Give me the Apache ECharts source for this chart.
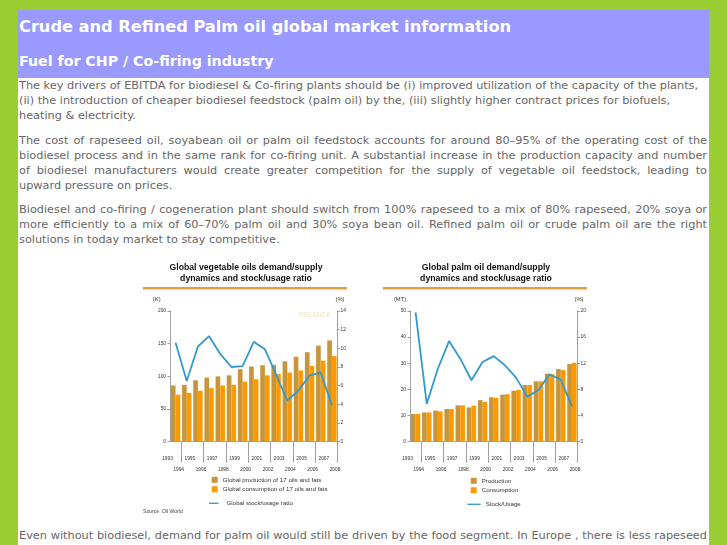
<!DOCTYPE html>
<html><head><meta charset="utf-8">
<script src="https://cdn.jsdelivr.net/npm/echarts/dist/echarts.min.js"></script>
<style>
html,body{margin:0;padding:0;}
body{width:727px;height:545px;overflow:hidden;background:#9acd32;position:relative;font-family:"DejaVu Sans",sans-serif;}
#page{position:absolute;left:18px;top:10px;width:691px;height:540px;background:#fff;}
#hdr{position:absolute;left:0;top:0;width:691px;height:68px;background:#9999ff;}
.h1{position:absolute;left:1px;top:7px;color:#fff;font-weight:bold;font-size:16.2px;line-height:20px;white-space:nowrap;}
.h2{position:absolute;left:1px;top:43px;color:#fff;font-weight:bold;font-size:14.2px;line-height:16px;white-space:nowrap;}
.p{position:absolute;left:1px;width:688px;color:#666;font-size:11.3px;line-height:15px;}
.p div{white-space:nowrap;}
.p div.j{text-align:justify;text-align-last:justify;}
.chart{position:absolute;width:220px;height:262px;top:258px;}
</style>
</head>
<body>
<div id="page">
  <div id="hdr">
    <div class="h1">Crude and Refined Palm oil global market information</div>
    <div class="h2">Fuel for CHP / Co-firing industry</div>
  </div>
  <div class="p" style="top:67.5px">
    <div>The key drivers of EBITDA for biodiesel &amp; Co-firing plants should be (i) improved utilization of the capacity of the plants,</div>
    <div>(ii) the introduction of cheaper biodiesel feedstock (palm oil) by the, (iii) slightly higher contract prices for biofuels,</div>
    <div>heating &amp; electricity.</div>
  </div>
  <div class="p" style="top:122.5px">
    <div class="j">The cost of rapeseed oil, soyabean oil or palm oil feedstock accounts for around 80–95% of the operating cost of the</div>
    <div class="j">biodiesel process and in the same rank for co-firing unit. A substantial increase in the production capacity and number</div>
    <div class="j">of biodiesel manufacturers would create greater competition for the supply of vegetable oil feedstock, leading to</div>
    <div>upward pressure on prices.</div>
  </div>
  <div class="p" style="top:191.5px">
    <div class="j">Biodiesel and co-firing / cogeneration plant should switch from 100% rapeseed to a mix of 80% rapeseed, 20% soya or</div>
    <div class="j">more efficiently to a mix of 60–70% palm oil and 30% soya bean oil. Refined palm oil or crude palm oil are the right</div>
    <div>solutions in today market to stay competitive.</div>
  </div>
  <div class="p" style="top:517.5px">
    <div class="j">Even without biodiesel, demand for palm oil would still be driven by the food segment. In Europe , there is less rapeseed</div>
    <div class="j">for food consumption as more and more rapeseed is used for biodiesel production. Palm oil appears to fill in the gap left</div>
  </div>
</div>
<div id="c1" class="chart" style="left:140px"></div>
<div id="c2" class="chart" style="left:380px"></div>
<script>
// ---- data ----
const tickYears = ['1993','1994','1995','1996','1997','1998','1999','2000','2001','2002','2003','2004','2005','2006','2007','2008'];
const periods = ['1993/94','1994/95','1995/96','1996/97','1997/98','1998/99','1999/00','2000/01','2001/02','2002/03','2003/04','2004/05','2005/06','2006/07','2007/08'];
const vegProduction = [86, 87, 94, 98, 100, 101.5, 111, 115, 117, 117.5, 123, 130, 137, 147, 155];
const vegConsumption = [72, 74.5, 78, 82, 86, 87, 92, 95.5, 101.5, 103.5, 106, 109, 116, 124, 131];
const vegStockRatio = [10.6, 6.5, 10.2, 11.3, 9.4, 8.0, 8.1, 10.7, 9.9, 7.2, 4.4, 5.5, 7.1, 7.4, 3.9];
const palmProduction = [10.6, 11.2, 11.9, 12.5, 13.9, 13.1, 15.9, 17.0, 18.0, 19.5, 21.7, 23.1, 26.0, 27.8, 29.7];
const palmConsumption = [10.6, 11.2, 11.6, 12.5, 13.9, 13.8, 15.2, 16.8, 18.2, 19.8, 21.7, 23.1, 25.8, 27.4, 30.2];
const palmStockRatio = [19.8, 5.8, 11.2, 15.4, 12.7, 9.4, 12.2, 13.1, 11.7, 9.8, 6.9, 7.9, 10.3, 9.5, 5.4];
const vegLeftTicks = {min: 0, max: 200, interval: 50};
const vegRightTicks = {min: 0, max: 14, interval: 2};
const palmLeftTicks = {min: 0, max: 50, interval: 10};
const palmRightTicks = {min: 0, max: 20, interval: 4};

const GOLD = '#C8963A', ORANGE = '#FF9900', BLUE = '#3399CC', AXIS = '#a0a0a0', LBL = '#333';
const SANS = '"Liberation Sans", Arial, sans-serif';

function buildOption(c) {
  const graphics = [
    {type:'text', x:106, y:4.5, style:{text:c.title, align:'center', verticalAlign:'top', fontFamily:SANS, fontWeight:'bold', fontSize:8.7, lineHeight:11, fill:'#111'}},
    {type:'rect', shape:{x:3, y:29, width:204, height:2.5}, style:{fill:'#D6A243'}},
    {type:'text', x:c.unitLeftX, y:41, style:{text:c.unitLeft, align:'center', verticalAlign:'middle', fontFamily:SANS, fontSize:5.8, fill:LBL}},
    {type:'text', x:c.unitRightX, y:41, style:{text:'(%)', align:'center', verticalAlign:'middle', fontFamily:SANS, fontSize:5.8, fill:LBL}}
  ];
  if (c.watermark) graphics.push({type:'text', x:174.5, y:57, style:{text:'GREENEA', align:'center', verticalAlign:'middle', fontFamily:SANS, fontWeight:'bold', fontSize:6.5, fill:'#f2ead2'}});
  if (c.source) graphics.push({type:'text', x:3, y:253.7, style:{text:c.source, align:'left', verticalAlign:'middle', fontFamily:SANS, fontSize:5.1, fill:'#444'}});
  const yAx = (t, pos) => ({
    type:'value', position:pos, min:t.min, max:t.max, interval:t.interval,
    axisLine:{show:true, lineStyle:{color:AXIS, width:1}},
    axisTick:{show:true, length:2.5, lineStyle:{color:AXIS}},
    splitLine:{show:false},
    axisLabel:{fontSize:4.8, fontFamily:SANS, color:LBL, margin:pos==='left'?4:3}
  });
  return {
    animation:false,
    grid:{left:30, right:22.5, top:53, bottom:78.3, containLabel:false, outerBoundsMode:'none'},
    graphic:graphics,
    legend:[
      {data:[c.names[0], c.names[1]], orient:'vertical', left:c.legLeft, top:c.legTop, padding:0, icon:'rect', itemWidth:6, itemHeight:6, itemGap:3.5,
       textStyle:{fontSize:6.2, fontFamily:SANS, color:LBL}},
      {data:[c.names[2]], orient:'vertical', left:c.leg2Left, top:c.legTop+23.5, padding:0, icon:'rect', itemWidth:c.leg2W, itemHeight:1.3,
       textStyle:{fontSize:6.2, fontFamily:SANS, color:LBL, padding:[0,0,0,c.leg2Pad]}}
    ],
    xAxis:[
      {type:'category', data:periods, boundaryGap:true, position:'bottom',
       axisLine:{show:true, lineStyle:{color:AXIS}}, axisTick:{show:false}, axisLabel:{show:false}},
      {type:'category', data:tickYears, boundaryGap:false, position:'bottom',
       axisLine:{show:false}, splitLine:{show:false},
       axisTick:{show:true, interval:(i)=> i % 2 === 1, length:21, lineStyle:{color:AXIS}},
       axisLabel:{interval:0, fontSize:4.8, fontFamily:SANS, color:LBL, margin:11, lineHeight:11, padding:[0,5,0,0],
         formatter:(v, i)=> (i % 2 === 0 ? v : '\n' + v)}}
    ],
    yAxis:[yAx(c.left,'left'), yAx(c.right,'right')],
    series:[
      {name:c.names[0], type:'bar', xAxisIndex:0, yAxisIndex:0, data:c.prod, itemStyle:{color:GOLD}, barGap:'0%', barCategoryGap:'16%'},
      {name:c.names[1], type:'bar', xAxisIndex:0, yAxisIndex:0, data:c.cons, itemStyle:{color:ORANGE}, barGap:'0%', barCategoryGap:'16%'},
      {name:c.names[2], type:'line', xAxisIndex:0, yAxisIndex:1, data:c.ratio, symbol:'none', itemStyle:{color:BLUE}, lineStyle:{color:BLUE, width:1.8}}
    ]
  };
}

echarts.init(document.getElementById('c1'), null, {renderer:'canvas'}).setOption(buildOption({
  title:'Global vegetable oils demand/supply\ndynamics and stock/usage ratio',
  unitLeft:'(K)', unitLeftX:16.7, unitRightX:200,
  left:vegLeftTicks, right:vegRightTicks,
  names:['Global production of 17 oils and fats','Global consumption of 17 oils and fats','Global stock/usage ratio'],
  prod:vegProduction, cons:vegConsumption, ratio:vegStockRatio,
  legLeft:71.7, legTop:218.8, leg2Left:69, leg2W:9.5, leg2Pad:3,
  watermark:true, source:'Source: Oil World'
}));
echarts.init(document.getElementById('c2'), null, {renderer:'canvas'}).setOption(buildOption({
  title:'Global palm oil demand/supply\ndynamics and stock/usage ratio',
  unitLeft:'(MT)', unitLeftX:20, unitRightX:199,
  left:palmLeftTicks, right:palmRightTicks,
  names:['Production','Consumption','Stock/Usage'],
  prod:palmProduction, cons:palmConsumption, ratio:palmStockRatio,
  legLeft:90.7, legTop:219.8, leg2Left:87.3, leg2W:13.4, leg2Pad:0,
  watermark:false, source:null
}));
</script>
</body></html>
